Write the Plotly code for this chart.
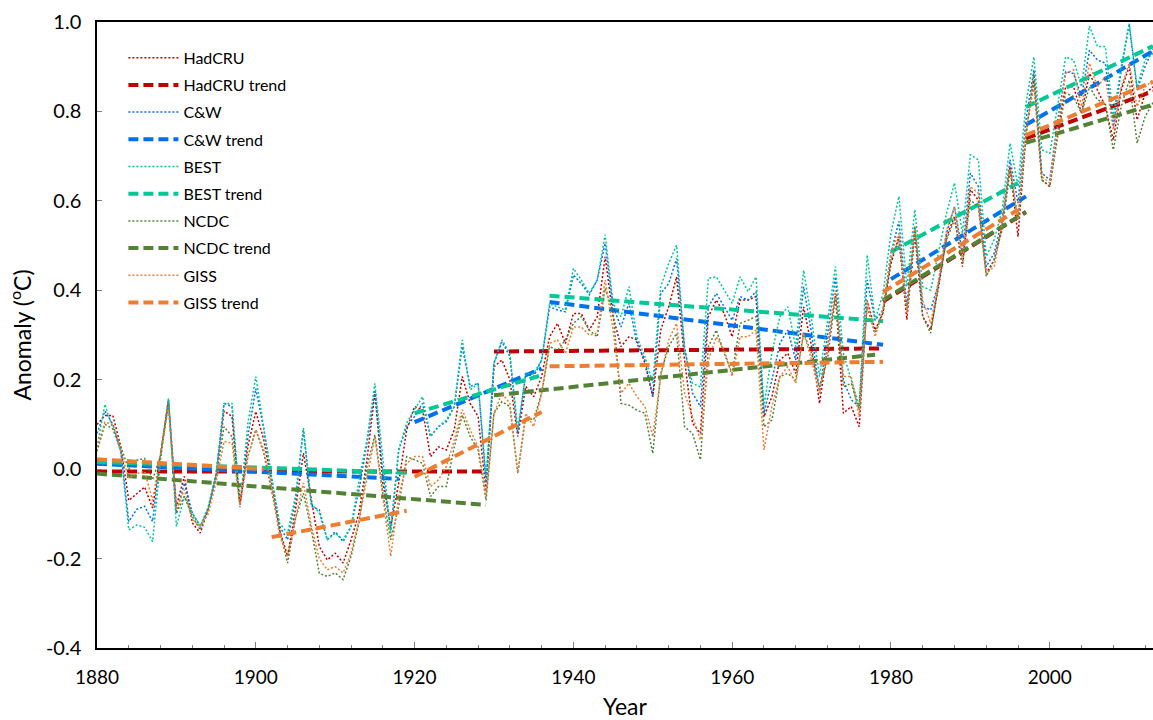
import plotly.graph_objects as go

years = list(range(1880, 2014))

hadcru = [0.10, 0.12, 0.12, 0.05, -0.07, -0.054, -0.04, -0.087, 0.03, 0.155,
          -0.083, -0.016, -0.12, -0.143, -0.09, -0.01, 0.13, 0.118, -0.08, 0.051,
          0.129, 0.066, -0.03, -0.136, -0.195, -0.09, 0.036, -0.07, -0.173, -0.203,
          -0.188, -0.21, -0.158, -0.098, 0.021, 0.17, -0.031, -0.128, -0.031, 0.088,
          0.14, 0.133, 0.028, 0.05, 0.043, 0.088, 0.207, 0.147, 0.118, -0.05,
          0.229, 0.244, 0.2, 0.073, 0.185, 0.162, 0.207, 0.296, 0.326, 0.281,
          0.348, 0.348, 0.311, 0.341, 0.475, 0.341, 0.274, 0.296, 0.289, 0.237,
          0.162, 0.311, 0.363, 0.43, 0.244, 0.103, 0.08, 0.341, 0.378, 0.348,
          0.296, 0.378, 0.378, 0.386, 0.117, 0.162, 0.244, 0.259, 0.214, 0.363,
          0.274, 0.147, 0.274, 0.393, 0.125, 0.14, 0.095, 0.378, 0.311, 0.35,
          0.46, 0.52, 0.334, 0.528, 0.341, 0.312, 0.408, 0.52, 0.565, 0.453,
          0.625, 0.602, 0.438, 0.468, 0.543, 0.677, 0.52, 0.751, 0.87, 0.647,
          0.632, 0.759, 0.855, 0.855, 0.796, 0.885, 0.848, 0.811, 0.736, 0.848,
          0.9, 0.781, 0.84, 0.855]

cw = [0.08, 0.13, 0.10, 0.04, -0.117, -0.09, -0.083, -0.117, 0.03, 0.155,
      -0.10, -0.031, -0.098, -0.128, -0.09, -0.015, 0.147, 0.14, -0.08, 0.073,
      0.18, 0.09, -0.02, -0.128, -0.158, -0.07, 0.088, -0.083, -0.091, -0.158,
      -0.14, -0.162, -0.128, -0.046, 0.058, 0.177, -0.009, -0.136, 0.043, 0.095,
      0.118, 0.147, 0.073, 0.095, 0.106, 0.14, 0.274, 0.185, 0.192, -0.03,
      0.237, 0.285, 0.252, 0.08, 0.214, 0.207, 0.244, 0.363, 0.356, 0.352,
      0.434, 0.415, 0.39, 0.423, 0.505, 0.363, 0.318, 0.371, 0.281, 0.244,
      0.162, 0.393, 0.415, 0.471, 0.274, 0.17, 0.14, 0.363, 0.393, 0.363,
      0.333, 0.386, 0.378, 0.397, 0.125, 0.199, 0.281, 0.311, 0.244, 0.408,
      0.304, 0.17, 0.304, 0.43, 0.199, 0.155, 0.14, 0.423, 0.333, 0.356,
      0.483, 0.554, 0.364, 0.543, 0.364, 0.356, 0.416, 0.528, 0.587, 0.483,
      0.662, 0.632, 0.453, 0.483, 0.558, 0.692, 0.595, 0.781, 0.893, 0.662,
      0.647, 0.781, 0.889, 0.885, 0.833, 0.937, 0.915, 0.908, 0.766, 0.893,
      0.995, 0.848, 0.9, 0.94]

best = [0.05, 0.145, 0.09, 0.04, -0.136, -0.125, -0.13, -0.162, 0.02, 0.158,
        -0.128, -0.061, -0.098, -0.128, -0.085, -0.01, 0.147, 0.147, -0.085, 0.103,
        0.207, 0.095, -0.02, -0.121, -0.143, -0.06, 0.092, -0.076, -0.098, -0.158,
        -0.143, -0.158, -0.128, -0.024, 0.066, 0.192, 0.021, -0.143, 0.043, 0.103,
        0.133, 0.162, 0.073, 0.095, 0.11, 0.14, 0.289, 0.177, 0.192, -0.02,
        0.237, 0.289, 0.259, 0.088, 0.214, 0.214, 0.244, 0.37, 0.363, 0.356,
        0.449, 0.423, 0.393, 0.423, 0.524, 0.37, 0.341, 0.408, 0.296, 0.252,
        0.192, 0.408, 0.46, 0.501, 0.266, 0.192, 0.184, 0.427, 0.43, 0.401,
        0.371, 0.43, 0.397, 0.43, 0.14, 0.259, 0.341, 0.363, 0.274, 0.445,
        0.333, 0.207, 0.333, 0.453, 0.259, 0.199, 0.14, 0.479, 0.333, 0.393,
        0.528, 0.61, 0.408, 0.58, 0.408, 0.4, 0.483, 0.572, 0.64, 0.528,
        0.703, 0.692, 0.476, 0.513, 0.58, 0.729, 0.632, 0.818, 0.922, 0.714,
        0.706, 0.818, 0.922, 0.915, 0.855, 0.991, 0.945, 0.945, 0.788, 0.9,
        0.997, 0.855, 0.915, 0.93]

ncdc = [0.04, 0.10, 0.09, 0.05, 0.0, 0.02, 0.024, -0.024, 0.03, 0.147,
        -0.098, -0.061, -0.106, -0.136, -0.09, -0.02, 0.095, 0.073, -0.075, 0.028,
        0.088, 0.036, -0.05, -0.136, -0.21, -0.11, -0.054, -0.136, -0.233, -0.24,
        -0.232, -0.247, -0.195, -0.12, 0.006, 0.077, -0.054, -0.158, -0.083, 0.028,
        0.021, 0.013, -0.061, -0.039, -0.039, 0.05, 0.121, 0.073, 0.043, -0.07,
        0.125, 0.151, 0.14, -0.009, 0.117, 0.11, 0.17, 0.274, 0.266, 0.289,
        0.326, 0.341, 0.311, 0.296, 0.404, 0.35, 0.147, 0.143, 0.132, 0.125,
        0.035, 0.214, 0.274, 0.304, 0.095, 0.08, 0.021, 0.274, 0.311, 0.259,
        0.214, 0.326, 0.333, 0.341, 0.095, 0.11, 0.207, 0.214, 0.199, 0.304,
        0.259, 0.184, 0.244, 0.386, 0.184, 0.192, 0.132, 0.363, 0.304, 0.35,
        0.468, 0.513, 0.356, 0.535, 0.341, 0.304, 0.416, 0.513, 0.558, 0.46,
        0.602, 0.587, 0.431, 0.468, 0.535, 0.669, 0.558, 0.744, 0.885, 0.647,
        0.632, 0.744, 0.841, 0.833, 0.796, 0.855, 0.826, 0.818, 0.714, 0.811,
        0.87, 0.729, 0.788, 0.82]

giss = [0.05, 0.105, 0.10, 0.04, -0.02, -0.01, -0.005, -0.07, 0.03, 0.14,
        -0.09, -0.046, -0.113, -0.128, -0.1, -0.03, 0.062, 0.058, -0.08, 0.028,
        0.088, 0.043, -0.04, -0.15, -0.195, -0.11, -0.031, -0.128, -0.2, -0.225,
        -0.218, -0.232, -0.188, -0.113, -0.024, 0.073, -0.061, -0.195, -0.061, 0.013,
        0.028, 0.028, -0.039, -0.024, 0.006, 0.065, 0.133, 0.088, 0.05, -0.06,
        0.125, 0.17, 0.147, -0.009, 0.125, 0.095, 0.17, 0.281, 0.289, 0.259,
        0.318, 0.318, 0.3, 0.304, 0.423, 0.311, 0.17, 0.192, 0.162, 0.14,
        0.073, 0.207, 0.289, 0.326, 0.17, 0.117, 0.065, 0.244, 0.296, 0.266,
        0.207, 0.296, 0.296, 0.311, 0.043, 0.14, 0.207, 0.229, 0.192, 0.304,
        0.244, 0.17, 0.274, 0.4, 0.207, 0.207, 0.117, 0.378, 0.296, 0.36,
        0.483, 0.528, 0.349, 0.543, 0.378, 0.326, 0.423, 0.535, 0.587, 0.468,
        0.632, 0.617, 0.438, 0.453, 0.55, 0.677, 0.558, 0.759, 0.855, 0.654,
        0.64, 0.766, 0.885, 0.893, 0.811, 0.908, 0.855, 0.878, 0.759, 0.855,
        0.908, 0.811, 0.855, 0.87]

# trend segments: (start year, end year, start value, end value)
hadcru_trend = [(1880, 1929, -0.005, -0.005), (1930, 1979, 0.263, 0.27),
                (1979, 1997, 0.375, 0.575), (1997, 2013, 0.74, 0.845)]
cw_trend = [(1880, 1918, 0.012, -0.022), (1920, 1936, 0.105, 0.225),
            (1937, 1979, 0.374, 0.278), (1980, 1997, 0.425, 0.61),
            (1997, 2013, 0.77, 0.935)]
best_trend = [(1880, 1919, 0.016, -0.008), (1920, 1936, 0.125, 0.21),
              (1937, 1979, 0.388, 0.331), (1980, 1996, 0.486, 0.64),
              (1997, 2013, 0.81, 0.946)]
ncdc_trend = [(1880, 1929, -0.01, -0.08), (1930, 1978, 0.165, 0.256),
              (1979, 1997, 0.378, 0.575), (1997, 2013, 0.73, 0.815)]
giss_trend = [(1880, 1901, 0.022, 0.0), (1902, 1919, -0.152, -0.093),
              (1920, 1936, -0.017, 0.128), (1937, 1979, 0.23, 0.24),
              (1979, 1996, 0.396, 0.58), (1997, 2013, 0.747, 0.866)]

names = ["HadCRU", "C&W", "BEST", "NCDC", "GISS"]
colors = ["#C00000", "#0070F0", "#00C896", "#548235", "#ED7D31"]
series = [hadcru, cw, best, ncdc, giss]
trends = [hadcru_trend, cw_trend, best_trend, ncdc_trend, giss_trend]

x_ticks = [1880, 1900, 1920, 1940, 1960, 1980, 2000]
y_ticks = [-0.4, -0.2, 0.0, 0.2, 0.4, 0.6, 0.8, 1.0]
y_ticktext = ["-0.4", "-0.2", "0.0", "0.2", "0.4", "0.6", "0.8", "1.0"]

FONT = "Lato, Carlito, 'Liberation Sans', sans-serif"

fig = go.Figure()
for i, (nm, col, ys, tr) in enumerate(zip(names, colors, series, trends)):
    fig.add_trace(go.Scatter(x=years, y=ys, mode="lines", name=nm,
                             legendgroup="g%d" % (2 * i),
                             line=dict(color=col, width=1.5, dash="2px,2px")))
    tx, ty = [], []
    for (x0, x1, y0, y1) in tr:
        tx += [x0, x1, None]
        ty += [y0, y1, None]
    fig.add_trace(go.Scatter(x=tx, y=ty, mode="lines", name=nm + " trend",
                             legendgroup="g%d" % (2 * i + 1),
                             line=dict(color=col, width=4, dash="10px,5px")))

fig.update_layout(
    width=1153, height=720,
    margin=dict(l=97, r=0, t=22, b=72),
    paper_bgcolor="white", plot_bgcolor="white",
    font=dict(family=FONT, color="#000000"),
    showlegend=True,
    legend=dict(x=0.025, y=0.97, xanchor="left", yanchor="top",
                bgcolor="rgba(0,0,0,0)", font=dict(size=16),
                traceorder="grouped", tracegroupgap=3.4, itemwidth=50),
)
fig.update_xaxes(range=[1880, 2013], tickvals=x_ticks, automargin=False,
                 ticks="inside", ticklen=6, tickcolor="#7f7f7f", tickwidth=1,
                 minor=dict(dtick=4, tick0=1880, ticks="inside", ticklen=3, tickcolor="#7f7f7f"),
                 showgrid=False, zeroline=False,
                 showline=True, linecolor="#000000", linewidth=1.5, mirror=True,
                 tickfont=dict(size=19, family=FONT), ticklabelstandoff=11,
                 title=dict(text="Year", font=dict(size=23, family=FONT), standoff=14))
fig.update_yaxes(range=[-0.4, 1.0], tickvals=y_ticks, ticktext=y_ticktext, automargin=False,
                 ticks="inside", ticklen=5, tickcolor="#7f7f7f", tickwidth=1,
                 showgrid=False, zeroline=False,
                 showline=True, linecolor="#000000", linewidth=1.5, mirror=True,
                 tickfont=dict(size=20, family=FONT), ticklabelstandoff=10,
                 title=dict(text="Anomaly (<sup>o</sup>C)", font=dict(size=23, family=FONT), standoff=8))

fig.write_html("out.html", config={"displayModeBar": False},
               post_script="document.body.style.margin='0';document.body.style.overflow='hidden';")
